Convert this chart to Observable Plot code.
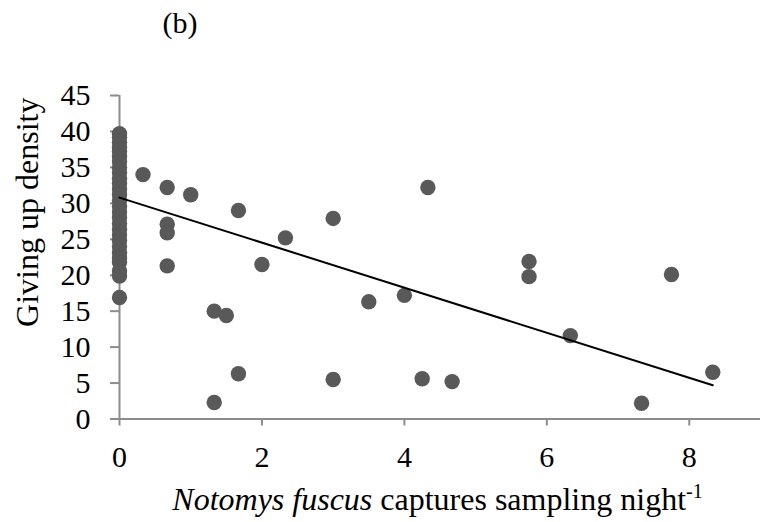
<!DOCTYPE html>
<html>
<head>
<meta charset="utf-8">
<script src="https://cdn.jsdelivr.net/npm/d3@7"></script>
<script src="https://cdn.jsdelivr.net/npm/@observablehq/plot@0.6"></script>
<style>
  html, body { margin: 0; padding: 0; background: white; }
</style>
</head>
<body>
<div id="chart"></div>
<script>
const panelTitle = "(b)";
const yLabel = "Giving up density";
const xLabelItalic = "Notomys fuscus";
const xLabelRest = " captures sampling night";
const xLabelSup = "-1";

const xTicks = [0, 2, 4, 6, 8];
const yTicks = [0, 5, 10, 15, 20, 25, 30, 35, 40, 45];

// sites with zero captures
const zeroGud = [39.7, 39.2, 38.5, 37.8, 37.2, 36.5, 35.8, 35.0, 34.3, 33.5, 32.8, 32.0,
  31.2, 30.4, 29.6, 28.8, 28.0, 27.2, 26.4, 25.6, 24.8, 24.0, 23.2, 22.4, 21.8, 20.6, 19.9, 16.9];

// sites with captures
const capX = [0.33, 0.67, 0.67, 0.67, 0.67, 1.0, 1.33, 1.33, 1.5, 1.67, 1.67, 2.0, 2.33, 3.0, 3.0,
  3.5, 4.0, 4.25, 4.33, 4.67, 5.75, 5.75, 6.33, 7.33, 7.75, 8.33];
const capGud = [34.0, 32.2, 27.1, 25.9, 21.3, 31.2, 15.0, 2.3, 14.4, 29.0, 6.3, 21.5, 25.2, 27.9, 5.5,
  16.3, 17.2, 5.6, 32.2, 5.2, 21.9, 19.8, 11.6, 2.2, 20.1, 6.5];

// fitted trend line
const trendX = [0, 8.33];
const trendY = [30.8, 4.7];

const points = [
  ...zeroGud.map(g => ({captures: 0, gud: g})),
  ...capX.map((c, i) => ({captures: c, gud: capGud[i]}))
];
const trend = trendX.map((x, i) => ({captures: x, gud: trendY[i]}));

const axisGray = "#8c8c8c";
const dotColor = "#595959";
const serif = "'Liberation Serif', 'Times New Roman', serif";

const plot = Plot.plot({
  width: 760,
  height: 522,
  marginLeft: 119,
  marginRight: 0,
  marginTop: 95,
  marginBottom: 103.5,
  style: {fontFamily: serif, background: "white", color: "black"},
  x: {domain: [0, 9]},
  y: {domain: [0, 45]},
  marks: [
    Plot.axisX({ticks: xTicks, tickSize: 7, tickPadding: 20, fontSize: 30, label: null,
      stroke: axisGray, strokeWidth: 2, fill: "black"}),
    Plot.axisY({ticks: yTicks, tickSize: 9, tickPadding: 20, fontSize: 30, label: null,
      stroke: axisGray, strokeWidth: 2, fill: "black"}),
    Plot.ruleY([0], {stroke: axisGray, strokeWidth: 2}),
    Plot.ruleX([0], {stroke: axisGray, strokeWidth: 2}),
    Plot.dot(points, {x: "captures", y: "gud", r: 7.7, fill: dotColor, stroke: "none"}),
    Plot.line(trend, {x: "captures", y: "gud", stroke: "black", strokeWidth: 2}),
    Plot.text([yLabel], {frameAnchor: "left", rotate: -90, dx: -91.5, dy: -45,
      fontSize: 32, fill: "black", textAnchor: "middle", lineAnchor: "middle"})
  ]
});

document.getElementById("chart").appendChild(plot);

const svg = d3.select(plot);
const xs = plot.scale("x");
const cx = (xs.range[0] + xs.range[1]) / 2;

svg.append("text")
  .attr("x", 180).attr("y", 33)
  .attr("text-anchor", "middle")
  .attr("font-family", serif)
  .attr("font-size", 30)
  .attr("fill", "black")
  .text(panelTitle);

const xl = svg.append("text")
  .attr("x", cx - 2).attr("y", 510)
  .attr("text-anchor", "middle")
  .attr("font-family", serif)
  .attr("font-size", 32)
  .attr("fill", "black");
xl.append("tspan").attr("font-style", "italic").text(xLabelItalic);
xl.append("tspan").text(xLabelRest);
xl.append("tspan").attr("font-size", 20).attr("dy", -12).text(xLabelSup);
</script>
</body>
</html>
